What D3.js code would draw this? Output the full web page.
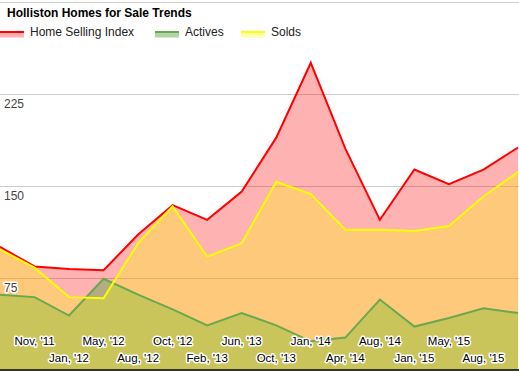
<!DOCTYPE html>
<meta charset="utf-8">
<style>
body { margin: 0; background: #fff; }
svg { display: block; font-family: Arial, "Liberation Sans", sans-serif; }
.grid line { stroke: #ccc; stroke-width: 1; }
.halo { stroke: #fff; stroke-width: 3px; stroke-linejoin: round; paint-order: stroke; }
</style>
<svg></svg>
<script src="https://cdn.jsdelivr.net/npm/d3@7/dist/d3.min.js"></script>
<script>

// chart data
var months  = ["Aug, '11", "Nov, '11", "Jan, '12", "May, '12", "Aug, '12", "Oct, '12", "Feb, '13", "Jun, '13",
               "Oct, '13", "Jan, '14", "Apr, '14", "Aug, '14", "Jan, '15", "May, '15", "Aug, '15", "Nov, '15"];
var sellingIndex = [100, 84, 82, 81, 110, 134, 122, 145, 189, 250, 180, 122, 163, 151, 163, 181];
var actives      = [61, 59, 44, 74, 61, 49, 36, 46, 36, 23, 26, 57, 35, 42, 50, 46];
var solds        = [98, 83, 59, 58, 103, 133, 92, 103, 153, 143, 114, 114, 113, 117, 141, 161];
var yTicks = [75, 150, 225, 300];

var series = [
  {name: "Home Selling Index", values: sellingIndex, color: "#ff0000", opacity: 0.3},
  {name: "Actives",            values: actives,      color: "#6aa84f", opacity: 0.5},
  {name: "Solds",              values: solds,        color: "#ffff00", opacity: 0.3}
];

var width = 519, height = 371;

var svg = d3.select("svg")
    .attr("width", width)
    .attr("height", height);

var x = d3.scalePoint()
    .domain(d3.range(months.length))
    .range([0, 518]);

var y = d3.scaleLinear()
    .domain([0, 300])
    .range([369.5, 1.5]);

// gridlines
svg.append("g")
    .attr("class", "grid")
  .selectAll("line")
  .data(yTicks)
  .enter().append("line")
    .attr("x1", 0)
    .attr("x2", width)
    .attr("y1", function(d) { return Math.round(y(d)) + 0.5; })
    .attr("y2", function(d) { return Math.round(y(d)) + 0.5; });

var area = d3.area()
    .x(function(d, i) { return x(i); })
    .y0(y(0))
    .y1(function(d) { return y(d); });

var line = d3.line()
    .x(function(d, i) { return x(i); })
    .y(function(d) { return y(d); });

svg.append("g").selectAll("path")
  .data(series)
  .enter().append("path")
    .attr("d", function(s) { return area(s.values); })
    .attr("fill", function(s) { return s.color; })
    .attr("fill-opacity", function(s) { return s.opacity; });

svg.append("g").selectAll("path")
  .data(series)
  .enter().append("path")
    .attr("d", function(s) { return line(s.values); })
    .attr("fill", "none")
    .attr("stroke", function(s) { return s.color; })
    .attr("stroke-width", 2)
    .attr("stroke-linejoin", "miter");

// baseline
svg.append("line")
    .attr("x1", 0).attr("x2", width)
    .attr("y1", 370).attr("y2", 370)
    .attr("stroke", "#333")
    .attr("stroke-width", 2);

// y labels, inside the plot
svg.append("g").selectAll("text")
  .data(yTicks.filter(function(d) { return d < 300; }))
  .enter().append("text")
    .attr("class", "halo")
    .attr("x", 4)
    .attr("y", function(d) { return y(d) + 14; })
    .attr("font-size", 12)
    .attr("fill", "#444")
    .text(function(d) { return d; });

// x labels, two staggered rows, skip those that would be cut off
var xLabels = svg.append("g")
    .attr("font-size", 11.5)
    .attr("text-anchor", "middle");

months.forEach(function(m, i) {
  var t = xLabels.append("text")
      .attr("class", "halo")
      .attr("x", x(i))
      .attr("y", i % 2 ? 345 : 362)
      .attr("fill", "#000")
      .text(m);
  var w = t.node().getComputedTextLength();
  if (x(i) - w / 2 < 0 || x(i) + w / 2 > width) t.remove();
});

// title
svg.append("text")
    .attr("x", 7)
    .attr("y", 17)
    .attr("font-size", 12)
    .attr("font-weight", "bold")
    .attr("fill", "#000")
    .text("Holliston Homes for Sale Trends");

// legend
var legendX = [0, 155, 241];
var legend = svg.append("g").selectAll("g")
  .data(series)
  .enter().append("g")
    .attr("transform", function(s, i) { return "translate(" + legendX[i] + ",0)"; });

legend.append("rect")
    .attr("x", 0).attr("y", 33)
    .attr("width", 24).attr("height", 4.5)
    .attr("fill", function(s) { return s.color; })
    .attr("fill-opacity", function(s) { return s.opacity; });

legend.append("line")
    .attr("x1", 0).attr("x2", 24)
    .attr("y1", 32).attr("y2", 32)
    .attr("stroke", function(s) { return s.color; })
    .attr("stroke-width", 2);

legend.append("text")
    .attr("x", 30)
    .attr("y", 36)
    .attr("font-size", 12)
    .attr("fill", "#222")
    .text(function(s) { return s.name; });

</script>
